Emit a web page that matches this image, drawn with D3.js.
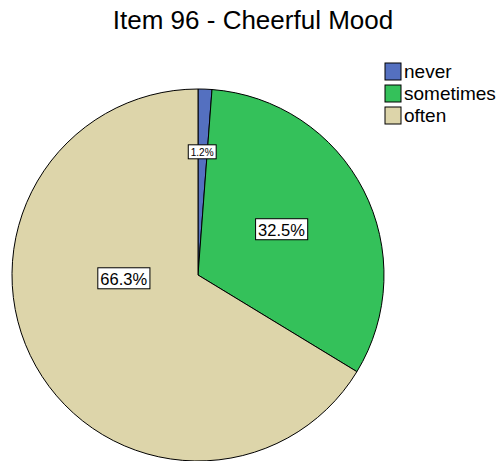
<!DOCTYPE html>
<html>
<head>
<meta charset="utf-8">
<script src="https://cdn.jsdelivr.net/npm/d3@7"></script>
<style>
  body { margin: 0; background: #fff; }
  text { font-family: "Liberation Sans", Arial, sans-serif; }
</style>
</head>
<body>
<svg id="chart" width="502" height="461"></svg>
<script>
const categories = ['never', 'sometimes', 'often'];
const percents = [1.2, 32.5, 66.3];
const labels = ['1.2%', '32.5%', '66.3%'];

const colors = ['#5470c0', '#34c15a', '#ddd5aa'];
// where each label sits: fraction through slice, fraction of radius
const labelSpot = [[0.45, 0.66], [0.49, 0.51], [0.61, 0.40]];
const labelFont = [10, 16.5, 16.5];

const width = 502, height = 461;
const cx = 198, cy = 275, r = 186;

const svg = d3.select('#chart');

svg.append('text')
  .attr('x', 253)
  .attr('y', 29)
  .attr('text-anchor', 'middle')
  .style('font-size', '26px')
  .text('Item 96 - Cheerful Mood');

const data = categories.map((c, i) => ({ name: c, value: percents[i], label: labels[i], i }));

const pie = d3.pie()
  .sort(null)
  .value(d => d.value);

const arc = d3.arc()
  .innerRadius(0)
  .outerRadius(r);

const color = d3.scaleOrdinal()
  .domain(categories)
  .range(colors);

const g = svg.append('g')
  .attr('transform', `translate(${cx},${cy})`);

const arcs = pie(data);

g.selectAll('path')
  .data(arcs)
  .enter()
  .append('path')
  .attr('d', arc)
  .style('fill', d => color(d.data.name))
  .style('stroke', '#000')
  .style('stroke-width', 1);

const lbl = g.selectAll('g.lbl')
  .data(arcs)
  .enter()
  .append('g')
  .attr('class', 'lbl')
  .attr('transform', d => {
    const spot = labelSpot[d.data.i];
    const a = d.startAngle + (d.endAngle - d.startAngle) * spot[0];
    const rr = r * spot[1];
    return `translate(${rr * Math.sin(a)},${-rr * Math.cos(a)})`;
  });

lbl.append('text')
  .attr('text-anchor', 'middle')
  .attr('dy', '0.35em')
  .style('font-size', d => labelFont[d.data.i] + 'px')
  .text(d => d.data.label);

lbl.each(function () {
  const t = d3.select(this).select('text');
  const b = t.node().getBBox();
  const pad = 2.5;
  d3.select(this).insert('rect', 'text')
    .attr('x', b.x - pad)
    .attr('y', b.y - 2)
    .attr('width', b.width + pad * 2)
    .attr('height', b.height + 3)
    .style('fill', '#fff')
    .style('stroke', '#000')
    .style('stroke-width', 1);
});

const legend = svg.append('g')
  .attr('transform', 'translate(385,63)');

const item = legend.selectAll('g')
  .data(categories)
  .enter()
  .append('g')
  .attr('transform', (d, i) => `translate(0,${i * 22})`);

item.append('rect')
  .attr('width', 16)
  .attr('height', 17)
  .style('fill', d => color(d))
  .style('stroke', '#000')
  .style('stroke-width', 1);

item.append('text')
  .attr('x', 19)
  .attr('y', 15)
  .style('font-size', '19px')
  .text(d => d);
</script>
</body>
</html>
